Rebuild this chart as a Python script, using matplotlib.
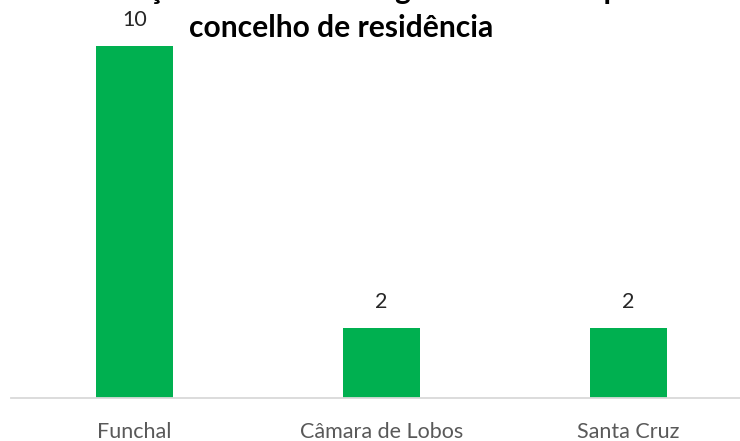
import matplotlib
matplotlib.use("Agg")
import matplotlib.pyplot as plt

# Data
categories = ["Funchal", "Câmara de Lobos", "Santa Cruz"]
values = [10, 2, 2]
title_lines = ["Distribuição dos utentes segundo o sexo e por",
               "concelho de residência"]

plt.rcParams["font.family"] = ["Lato", "DejaVu Sans"]

W, H, DPI = 740, 441, 100
fig = plt.figure(figsize=(W / DPI, H / DPI), dpi=DPI)

# Plot area: baseline near the bottom, value scale running past the top edge
base_px = 398
unit_px = 35.2
ymax = 12
left_px = 11
span_px = 741
ax = fig.add_axes([left_px / W, (H - base_px) / H, span_px / W, ymax * unit_px / H])

green = "#00b050"
x = range(len(categories))
bars = ax.bar(x, values, width=0.312, color=green, zorder=2)

ax.set_xlim(-0.5, len(categories) - 0.5)
ax.set_ylim(0, ymax)

for side in ("top", "left", "right"):
    ax.spines[side].set_visible(False)
ax.spines["bottom"].set_color("#d9d9d9")
ax.spines["bottom"].set_linewidth(1.3)
ax.set_yticks([])
ax.set_xticks(list(x))
ax.set_xticklabels(categories, fontsize=15.5, color="#595959")
ax.tick_params(axis="x", length=0, pad=17)

for b, v in zip(bars, values):
    ax.annotate(str(v), (b.get_x() + b.get_width() / 2, v),
                xytext=(0, 26), textcoords="offset pixels",
                ha="center", va="center", fontsize=15.5, color="#262626")

# Title (first line runs off the top edge, only its descenders remain)
cx = 341 / W
fig.text(cx, 1 + 1 / H, title_lines[0], ha="center", va="baseline",
         fontsize=21.6, fontweight="bold", color="#000000")
fig.text(cx, 1 - 37 / H, title_lines[1], ha="center", va="baseline",
         fontsize=21.6, fontweight="bold", color="#000000")

fig.savefig("out.png", dpi=DPI)
